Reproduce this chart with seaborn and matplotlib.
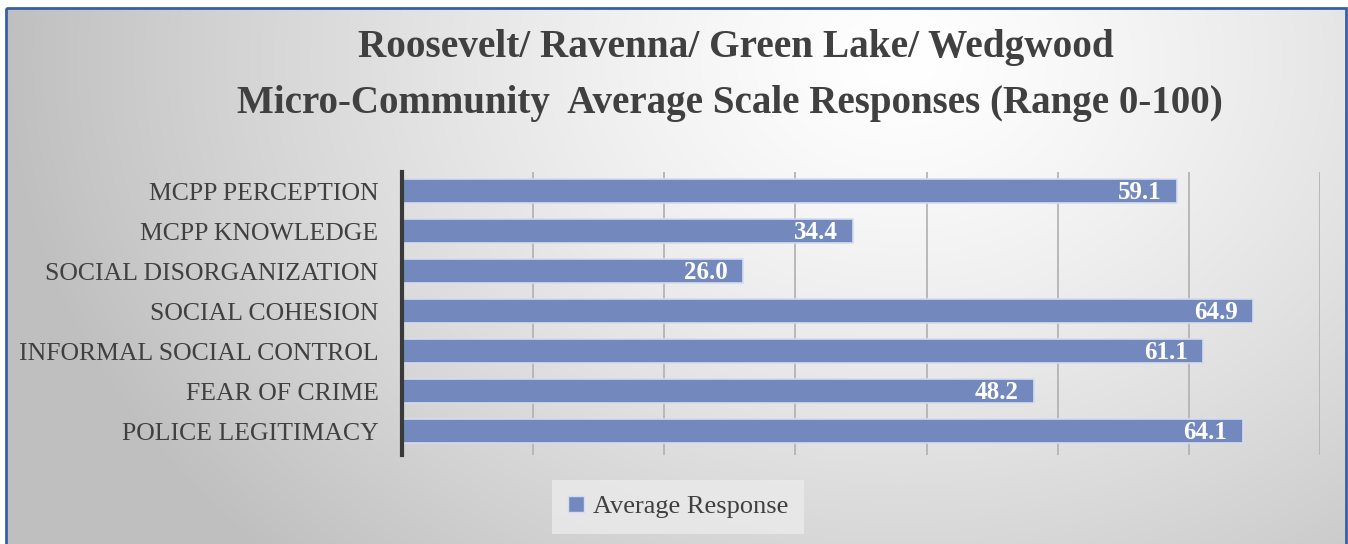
import numpy as np
import pandas as pd
import matplotlib
matplotlib.use("Agg")
import matplotlib.pyplot as plt
import seaborn as sns
from matplotlib.patches import Rectangle, Patch

categories = ["MCPP PERCEPTION", "MCPP KNOWLEDGE", "SOCIAL DISORGANIZATION",
              "SOCIAL COHESION", "INFORMAL SOCIAL CONTROL", "FEAR OF CRIME",
              "POLICE LEGITIMACY"]
values = [59.1, 34.4, 26.0, 64.9, 61.1, 48.2, 64.1]
title_lines = ["Roosevelt/ Ravenna/ Green Lake/ Wedgwood",
               "Micro-Community  Average Scale Responses (Range 0-100)"]
series_name = "Average Response"

sns.set_theme(style="white")
plt.rcParams['font.family'] = ['Liberation Serif', 'DejaVu Serif']

W, H = 1348, 544
fig = plt.figure(figsize=(W / 100, H / 100), dpi=100)

# radial gradient background
bg = fig.add_axes([0, 0, 1, 1], zorder=-10)
yy, xx = np.mgrid[0:H, 0:W]
d = np.sqrt(((xx - 900) / 1.15) ** 2 + ((yy - 60) / 0.9) ** 2)
v = 1.0 - 0.25 * np.clip(d / 780, 0, 1) ** 1.3
bg.imshow(np.dstack([v, v, v]), extent=[0, W, H, 0], aspect='auto', interpolation='bilinear')
bg.set_xlim(0, W); bg.set_ylim(H, 0)
bg.axis('off')
# white strip outside border
bg.add_patch(Rectangle((0, 0), W, 7, color='white', zorder=2))
bg.add_patch(Rectangle((0, 0), 5, H, color='white', zorder=2))
bg.add_patch(Rectangle((1346, 0), 2, H, color='white', zorder=2))
bg.add_patch(Rectangle((5.5, 7.5), 1340, H + 5, fill=False, edgecolor='#3560a8', lw=2, zorder=3))

df = pd.DataFrame({"category": categories, "value": values})

ax = fig.add_axes([402 / W, 1 - 455 / H, 918 / W, 283 / H])
ax.patch.set_alpha(0)
sns.barplot(data=df, x="value", y="category", orient="h", ax=ax, width=0.6,
            color="#7389be", saturation=1, edgecolor="#d5dcef", linewidth=1.2, zorder=3)
ax.set_xlim(0, 70)
ax.set_ylim(6.6, -0.475)
ax.set_xticks(np.arange(0, 71, 10))
ax.xaxis.grid(True, color='#b4b4b4', lw=1.3, zorder=0)
ax.set_axisbelow(True)
ax.tick_params(axis='x', labelbottom=False, length=0)
ax.tick_params(axis='y', length=0, pad=17, labelsize=18.5, labelcolor='#404040')
ax.set_xlabel(""); ax.set_ylabel("")
for s in ['top', 'right', 'bottom']:
    ax.spines[s].set_visible(False)
ax.spines['left'].set_color('#3a3a3a')
ax.spines['left'].set_linewidth(3)
ax.spines['left'].set_zorder(5)

for i, val in enumerate(values):
    ax.annotate(f"{val:.1f}", xy=(val, i), xytext=(-11, -1), textcoords='offset points',
                ha='right', va='center', color='white', fontweight='bold', fontsize=18, zorder=6)

fig.text(0.5 * (354 + 1117) / W, 1 - 48 / H, title_lines[0], ha='center', va='center',
         fontsize=28.3, fontweight='bold', color='#404040')
fig.text(0.5 * (236 + 1224) / W, 1 - 103 / H, title_lines[1], ha='center', va='center',
         fontsize=28.1, fontweight='bold', color='#404040')

leg = fig.legend(handles=[Patch(facecolor='#7389be', edgecolor='#d5dcef', label=series_name)],
                 loc='center', bbox_to_anchor=(678 / W, 1 - 507 / H), fontsize=19,
                 frameon=True, fancybox=False, handlelength=0.6, handleheight=0.6,
                 handletextpad=0.35, borderpad=0.6, borderaxespad=0)
leg.get_frame().set_facecolor('#ebebeb')
leg.get_frame().set_edgecolor('none')
leg.get_frame().set_alpha(0.8)
for t in leg.get_texts():
    t.set_color('#404040')

fig.savefig("out.png", dpi=100)
